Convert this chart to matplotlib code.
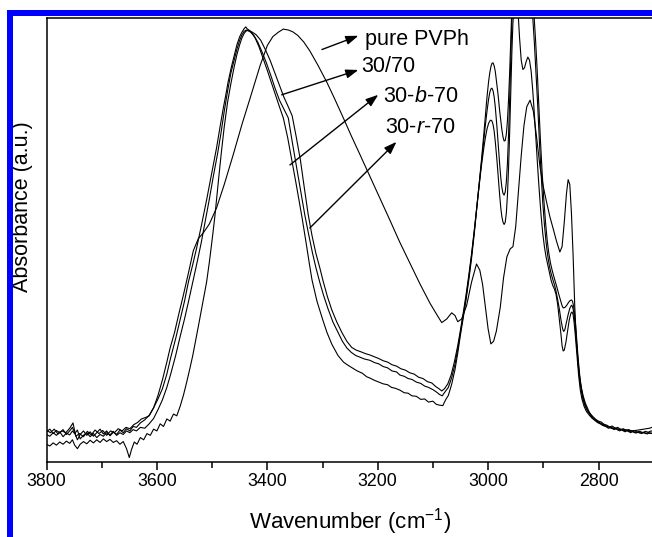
import numpy as np
import matplotlib
matplotlib.use("Agg")
import matplotlib.pyplot as plt
from matplotlib.patches import Rectangle
from matplotlib.ticker import MultipleLocator

plt.rcParams['font.family'] = ['Liberation Sans', 'DejaVu Sans']
plt.rcParams['mathtext.fontset'] = 'custom'
plt.rcParams['mathtext.rm'] = 'Liberation Sans'
plt.rcParams['mathtext.it'] = 'Liberation Sans:italic'

# FTIR spectra, (wavenumber cm^-1, absorbance a.u.)
pure_pvph = [
    (3800, .072), (3793, .066), (3786, .074), (3779, .063), (3772, .070), (3765, .066),
    (3758, .076), (3752, .088), (3747, .058), (3740, .064), (3733, .057), (3726, .069),
    (3719, .061), (3712, .072), (3705, .064), (3698, .071), (3691, .060), (3684, .070),
    (3677, .066), (3670, .075), (3663, .070), (3656, .078), (3649, .075), (3642, .084),
    (3635, .089), (3628, .097), (3621, .100), (3614, .104), (3606, .122), (3598, .150),
    (3590, .185), (3582, .225), (3576, .257), (3568, .292), (3560, .335), (3552, .376),
    (3543, .425), (3534, .476), (3525, .503), (3516, .516), (3505, .536), (3492, .572),
    (3478, .625), (3462, .691), (3446, .760), (3431, .820), (3413, .893), (3400, .938),
    (3390, .958), (3380, .968), (3371, .975), (3362, .973), (3354, .969), (3345, .961),
    (3334, .946), (3323, .926), (3308, .893), (3292, .855), (3278, .818), (3263, .777),
    (3248, .735), (3232, .692), (3214, .643), (3196, .594), (3178, .545), (3160, .495),
    (3141, .446), (3123, .400), (3105, .357), (3092, .330), (3084, .314),
    (3075, .322), (3066, .336), (3060, .330), (3055, .316), (3048, .322), (3039, .352),
    (3030, .405), (3021, .446), (3015, .432), (3010, .400), (3005, .350), (3000, .300),
    (2995, .266), (2990, .272), (2985, .295), (2978, .348), (2972, .415), (2966, .462),
    (2960, .480), (2955, .485), (2950, .530), (2945, .610), (2940, .690), (2935, .758),
    (2930, .800), (2924, .815), (2918, .790), (2912, .730), (2906, .665), (2900, .620),
    (2894, .585), (2888, .552), (2882, .525), (2876, .497), (2870, .473), (2866, .485),
    (2862, .540), (2858, .605), (2855, .636), (2852, .625), (2849, .560), (2846, .465),
    (2843, .350), (2840, .270), (2836, .210), (2833, .180), (2828, .150), (2824, .133),
    (2817, .113), (2810, .100), (2800, .090), (2790, .083), (2779, .078), (2768, .075),
    (2758, .073), (2748, .072), (2738, .070), (2728, .072), (2718, .074), (2708, .076),
    (2700, .079),
]

blend_30_70 = [
    (3800, .068), (3794, .074), (3788, .064), (3782, .071), (3776, .066), (3770, .073),
    (3764, .062), (3758, .070), (3753, .078), (3749, .066), (3744, .050), (3739, .062),
    (3733, .070), (3727, .060), (3721, .068), (3715, .058), (3709, .066), (3703, .074),
    (3697, .063), (3691, .070), (3685, .059), (3679, .067), (3673, .062), (3667, .072),
    (3661, .066), (3655, .075), (3649, .070), (3643, .080), (3637, .078), (3630, .088),
    (3622, .095), (3614, .105), (3606, .122), (3598, .142), (3590, .165), (3582, .198),
    (3575, .235), (3566, .278), (3558, .320), (3550, .362), (3543, .405), (3535, .445),
    (3528, .482), (3519, .535), (3510, .590), (3501, .648), (3492, .707), (3486, .752),
    (3480, .795), (3475, .828), (3471, .856), (3465, .890), (3460, .915), (3455, .940),
    (3450, .958), (3446, .968), (3442, .976), (3439, .980), (3436, .975), (3432, .972),
    (3428, .966), (3422, .955), (3415, .935), (3408, .910), (3400, .882), (3392, .852),
    (3385, .826), (3378, .800), (3371, .775), (3363, .730), (3355, .676), (3348, .628),
    (3344, .600), (3337, .550), (3330, .496), (3324, .448), (3319, .410), (3310, .362),
    (3300, .322), (3292, .292), (3283, .265), (3272, .240), (3262, .225), (3254, .218),
    (3246, .212), (3237, .205), (3228, .200), (3220, .192), (3214, .189), (3206, .184),
    (3198, .180), (3190, .176), (3182, .174), (3175, .168), (3168, .166), (3160, .162),
    (3152, .156), (3145, .155), (3138, .149), (3130, .148), (3122, .141), (3115, .142),
    (3108, .135), (3100, .137), (3094, .130), (3088, .128), (3082, .127), (3077, .140),
    (3072, .150), (3066, .175), (3060, .208), (3055, .245), (3050, .287), (3045, .325),
    (3040, .365), (3035, .410), (3030, .458), (3025, .515), (3020, .578), (3016, .628),
    (3012, .680), (3008, .735), (3005, .780), (3002, .822), (2999, .858), (2997, .876),
    (2995, .890), (2993, .898), (2991, .899), (2989, .892), (2987, .880), (2984, .850),
    (2982, .828), (2979, .790), (2977, .768), (2975, .748), (2973, .732), (2971, .723),
    (2969, .724), (2967, .738), (2965, .768), (2963, .815), (2961, .875), (2959, .945),
    (2957, 1.02), (2955, 1.10), (2950, 1.22), (2945, 1.24), (2940, 1.18), (2935, 1.14),
    (2930, 1.15), (2925, 1.13), (2920, 1.06), (2917, 1.01), (2914, .950), (2911, .880),
    (2908, .800), (2905, .720), (2902, .650), (2899, .590), (2896, .540), (2893, .500),
    (2890, .470), (2887, .448), (2884, .432), (2881, .418), (2878, .405), (2875, .392),
    (2872, .378), (2869, .365), (2866, .352), (2864, .347), (2861, .348), (2858, .352),
    (2855, .358), (2852, .363), (2849, .365), (2847, .362), (2845, .350), (2843, .330),
    (2840, .285), (2837, .235), (2834, .195), (2831, .165), (2828, .145), (2824, .128),
    (2820, .117), (2815, .108), (2810, .102), (2805, .096), (2800, .092), (2795, .090),
    (2790, .085), (2785, .083), (2780, .079), (2775, .081), (2770, .076), (2765, .078),
    (2760, .073), (2755, .075), (2750, .071), (2745, .073), (2740, .069), (2735, .071),
    (2730, .067), (2725, .069), (2720, .066), (2715, .069), (2710, .067), (2705, .070),
    (2700, .068),
]

blend_30_b_70 = [
    (3800, .062), (3794, .058), (3788, .066), (3782, .060), (3776, .068), (3770, .057),
    (3764, .065), (3758, .061), (3753, .070), (3749, .064), (3744, .072), (3739, .052),
    (3733, .060), (3727, .066), (3721, .057), (3715, .064), (3709, .055), (3703, .062),
    (3697, .058), (3691, .066), (3685, .061), (3679, .069), (3673, .060), (3667, .066),
    (3661, .062), (3655, .070), (3649, .066), (3643, .073), (3637, .070), (3630, .078),
    (3622, .076), (3614, .086), (3606, .098), (3598, .118), (3590, .140), (3582, .168),
    (3575, .198), (3566, .240), (3558, .282), (3550, .322), (3543, .360), (3535, .405),
    (3528, .445), (3520, .492), (3512, .545), (3505, .592), (3498, .642), (3490, .695),
    (3484, .740), (3478, .790), (3472, .835), (3466, .876), (3460, .905), (3455, .930),
    (3450, .950), (3446, .962), (3442, .970), (3438, .973), (3434, .971), (3430, .968),
    (3424, .960), (3417, .945), (3410, .925), (3402, .900), (3394, .872), (3386, .842),
    (3378, .815), (3370, .795), (3362, .775), (3354, .715), (3345, .650), (3338, .600),
    (3332, .556), (3325, .512), (3318, .470), (3312, .438), (3305, .405), (3298, .375),
    (3290, .345), (3281, .315), (3272, .292), (3264, .272), (3256, .257), (3248, .247),
    (3240, .240), (3232, .236), (3224, .232), (3214, .229), (3206, .224), (3198, .221),
    (3190, .215), (3182, .212), (3174, .205), (3166, .203), (3160, .196), (3152, .193),
    (3145, .188), (3138, .186), (3130, .180), (3122, .177), (3115, .171), (3108, .168),
    (3100, .163), (3094, .158), (3088, .152), (3083, .149), (3078, .158), (3072, .168),
    (3066, .190), (3060, .220), (3055, .255), (3050, .292), (3045, .330), (3040, .370),
    (3035, .415), (3030, .465), (3025, .520), (3020, .580), (3016, .628), (3012, .676),
    (3008, .722), (3005, .758), (3002, .790), (2999, .818), (2997, .832), (2995, .840),
    (2993, .842), (2991, .836), (2989, .822), (2987, .800), (2984, .755), (2982, .720),
    (2979, .670), (2977, .640), (2975, .618), (2973, .605), (2971, .601), (2969, .608),
    (2967, .630), (2965, .672), (2963, .735), (2961, .815), (2959, .905), (2957, .995),
    (2955, 1.08), (2950, 1.20), (2945, 1.22), (2940, 1.15), (2935, 1.10), (2930, 1.12),
    (2925, 1.10), (2922, 1.05), (2919, 1.00), (2916, .940), (2913, .870), (2910, .800),
    (2907, .720), (2904, .650), (2901, .585), (2898, .535), (2895, .495), (2892, .465),
    (2889, .442), (2886, .425), (2883, .412), (2880, .400), (2877, .385), (2874, .366),
    (2871, .345), (2868, .320), (2865, .300), (2863, .294), (2861, .298), (2858, .315),
    (2855, .332), (2852, .346), (2849, .353), (2847, .350), (2845, .338), (2843, .318),
    (2840, .275), (2837, .225), (2834, .185), (2831, .158), (2828, .140), (2824, .125),
    (2820, .115), (2815, .106), (2810, .098), (2805, .094), (2800, .089), (2795, .086),
    (2790, .083), (2785, .080), (2780, .078), (2775, .075), (2770, .077), (2765, .072),
    (2760, .074), (2755, .070), (2750, .072), (2745, .068), (2740, .070), (2735, .066),
    (2730, .068), (2725, .065), (2720, .067), (2715, .064), (2710, .066), (2705, .064),
    (2700, .066),
]

blend_30_r_70 = [
    (3800, .040), (3794, .036), (3788, .043), (3782, .038), (3776, .045), (3770, .040),
    (3764, .047), (3758, .042), (3753, .050), (3749, .038), (3744, .030), (3739, .040),
    (3733, .046), (3727, .041), (3721, .049), (3715, .043), (3709, .050), (3703, .044),
    (3697, .052), (3691, .046), (3685, .051), (3679, .044), (3673, .048), (3667, .040),
    (3661, .046), (3655, .030), (3650, .010), (3646, .028), (3641, .045), (3636, .040),
    (3630, .055), (3624, .050), (3618, .064), (3612, .060), (3606, .074), (3600, .070),
    (3594, .086), (3588, .080), (3582, .097), (3576, .092), (3570, .108), (3564, .104),
    (3558, .125), (3552, .150), (3546, .180), (3540, .212), (3535, .240), (3530, .272),
    (3525, .305), (3520, .338), (3515, .372), (3510, .405), (3505, .450), (3500, .500),
    (3495, .553), (3489, .628), (3483, .700), (3478, .755), (3472, .810), (3466, .852),
    (3460, .890), (3455, .918), (3450, .940), (3446, .955), (3442, .965), (3439, .970),
    (3436, .972), (3432, .971), (3427, .968), (3420, .962), (3412, .950), (3404, .930),
    (3395, .905), (3386, .875), (3378, .848), (3370, .822), (3362, .800), (3355, .780),
    (3348, .735), (3340, .680), (3333, .618), (3326, .558), (3319, .510), (3312, .470),
    (3305, .438), (3299, .408), (3291, .372), (3283, .342), (3274, .315), (3265, .292),
    (3256, .272), (3247, .258), (3239, .252), (3230, .248), (3222, .244), (3214, .241),
    (3206, .237), (3198, .233), (3190, .228), (3182, .225), (3174, .219), (3166, .216),
    (3158, .210), (3150, .207), (3142, .201), (3134, .198), (3126, .191), (3118, .188),
    (3110, .181), (3102, .178), (3095, .170), (3089, .165), (3084, .160), (3079, .165),
    (3073, .176), (3067, .196), (3061, .226), (3055, .262), (3050, .298), (3045, .336),
    (3040, .376), (3035, .420), (3030, .468), (3025, .522), (3020, .580), (3016, .625),
    (3012, .668), (3008, .705), (3005, .730), (3002, .750), (2999, .763), (2997, .768),
    (2995, .770), (2993, .768), (2991, .760), (2989, .745), (2987, .722), (2984, .680),
    (2982, .648), (2979, .600), (2977, .572), (2975, .552), (2973, .540), (2971, .535),
    (2969, .540), (2967, .560), (2965, .600), (2963, .660), (2961, .740), (2959, .830),
    (2957, .920), (2955, .990), (2952, 1.05), (2949, 1.06), (2946, 1.02), (2943, .955),
    (2940, .905), (2937, .884), (2934, .888), (2931, .902), (2928, .912), (2925, .905),
    (2922, .880), (2919, .835), (2916, .780), (2913, .720), (2910, .660), (2907, .605),
    (2904, .555), (2901, .515), (2898, .485), (2895, .462), (2892, .445), (2889, .428),
    (2886, .410), (2883, .398), (2880, .390), (2877, .378), (2874, .355), (2871, .322),
    (2868, .288), (2866, .262), (2864, .250), (2862, .252), (2859, .270), (2856, .295),
    (2853, .320), (2850, .335), (2848, .338), (2846, .332), (2844, .312), (2842, .285),
    (2839, .240), (2836, .195), (2833, .162), (2830, .142), (2826, .125), (2822, .114),
    (2817, .106), (2812, .099), (2807, .094), (2802, .089), (2797, .086), (2792, .082),
    (2787, .080), (2782, .076), (2777, .078), (2772, .073), (2767, .075), (2762, .070),
    (2757, .073), (2752, .068), (2747, .071), (2742, .066), (2737, .069), (2732, .065),
    (2727, .068), (2722, .064), (2717, .067), (2712, .063), (2707, .066), (2702, .064),
    (2700, .065),
]

spectra = [pure_pvph, blend_30_70, blend_30_b_70, blend_30_r_70]

# label text, label anchor (wn, abs), arrow tail, arrow head
labels = ["pure PVPh", "30/70", "30-$b$-70", "30-$r$-70"]
label_pos = [(3223, .939), (3229, .878), (3190, .810), (3187, .740)]
arrow_tail = [(3301, .929), (3374, .827), (3359, .669), (3323, .527)]
arrow_head = [(3235, .960), (3235, .883), (3199, .827), (3166, .721)]

major_ticks = [3800, 3600, 3400, 3200, 3000, 2800]

W, H = 652, 537
fig = plt.figure(figsize=(W / 100, H / 100), dpi=100)
ax = fig.add_axes([46.5 / W, 75 / H, 607.2 / W, 444 / H])

for spec in spectra:
    wn, ab = np.array(spec).T
    ax.plot(wn, ab, color='black', lw=0.8)

for txt, lp, tail, head in zip(labels, label_pos, arrow_tail, arrow_head):
    ax.annotate('', xy=head, xytext=tail,
                arrowprops=dict(arrowstyle='-|>,head_length=0.5,head_width=0.18',
                                color='black', lw=1.0, mutation_scale=15,
                                shrinkA=0, shrinkB=0))
    ax.text(lp[0], lp[1], txt, fontsize=15.5, ha='left', va='baseline')

ax.set_xlim(3800, 2700)
ax.set_ylim(0, 1)
ax.set_xticks(major_ticks)
ax.xaxis.set_minor_locator(MultipleLocator(100))
ax.set_yticks([])
ax.tick_params(axis='x', which='major', direction='out', length=6, width=1.1,
               labelsize=12.8, pad=2)
ax.tick_params(axis='x', which='minor', direction='out', length=4, width=1.1)
for s in ax.spines.values():
    s.set_linewidth(1.1)

ax.set_xlabel('Wavenumber (cm$^{-1}$)', fontsize=16, labelpad=11.5)
ax.set_ylabel('Absorbance (a.u.)', fontsize=15.5)
ax.yaxis.set_label_coords(-0.022, 0.575)

# blue frame lines along the top and left edge
fig.patches.append(Rectangle((6.5 / W, 0), 6 / W, (H - 10) / H,
                             transform=fig.transFigure, color='#0000ff', lw=0))
fig.patches.append(Rectangle((6.5 / W, (H - 16) / H), (W - 6.5) / W, 6 / H,
                             transform=fig.transFigure, color='#0000ff', lw=0))

fig.savefig('out.png', dpi=100)
